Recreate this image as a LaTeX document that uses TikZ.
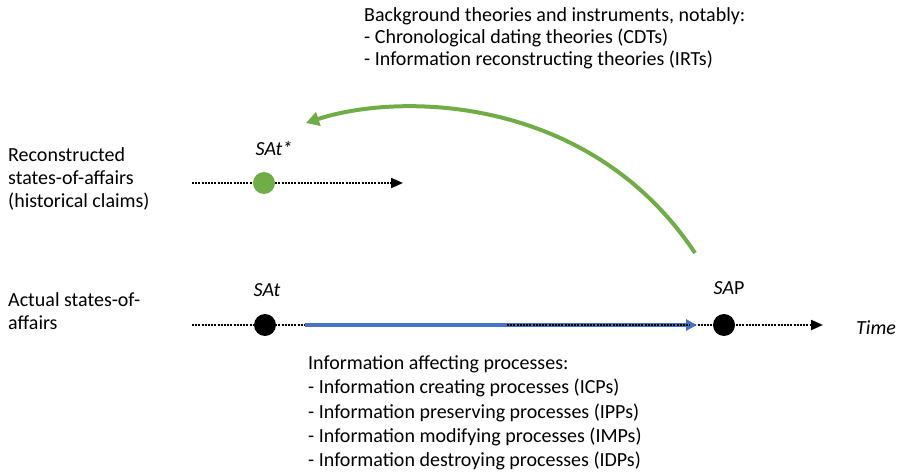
\documentclass[tikz,border=0pt]{standalone}
\usepackage{fontspec}
\setmainfont{Carlito}
\usetikzlibrary{arrows.meta}
\definecolor{pgreen}{HTML}{70AD47}
\definecolor{pblue}{HTML}{4472C4}
\begin{document}
\begin{tikzpicture}[x=1pt,y=-1pt,
  txt/.style={font=\fontsize{20}{23}\selectfont, align=left, inner sep=0pt, anchor=north west},
  lbl/.style={font=\fontsize{20}{23}\selectfont\itshape, inner sep=0pt},
  timeline/.style={line width=2pt, dash pattern=on 2pt off 1.2pt, -{Triangle[length=12pt,width=10pt]}},
  dotl/.style={line width=2pt, dash pattern=on 2pt off 1.2pt},
  dot/.style={circle, minimum size=22pt, inner sep=0pt, fill=black},
  gdot/.style={circle, minimum size=22pt, inner sep=0pt, fill=pgreen}]
\useasboundingbox (0,0) rectangle (898,473);
% top text
\node[txt, font=\fontsize{20}{22}\selectfont] (bg) at (364,7) {Background theories and instruments, notably:\\- Chronological dating theories (CDTs)\\- Information reconstructing theories (IRTs)};
% left labels
\node[txt] (rec) at (8,147.5) {Reconstructed\\states-of-affairs\\(historical claims)};
\node[txt] (act) at (8,292.5) {Actual states-of-\\affairs};
% upper line
\coordinate (u0) at (192,183);
\coordinate (u1) at (403,183);
\draw[timeline] (u0) -- (u1);
\node[gdot] (sastar) at (264,183) {};
\node[lbl] (sastarl) at (274,148) {SAt*};
% lower line
\coordinate (l0) at (192,325);
\coordinate (l1) at (823,325);
\coordinate (bs) at (305,325);
\coordinate (bm) at (507,325);
\draw[timeline] (l0) -- (l1);
\node[dot] (sat) at (265,325) {};
\node[dot] (sap) at (724,325) {};
\node[lbl] (satl) at (267,290) {SAt};
\node[lbl] (sapl) at (729,288) {SA\textup{P}};
\node[lbl, anchor=west] (time) at (856,328) {Time};
\draw[line width=3.5pt, pblue, -{Triangle[length=11pt,width=11pt]}] (bs) -- (697,325);
\draw[dotl] (bm) -- (690,325);
% green curve
\coordinate (gs) at (695,253);
\coordinate (ge) at (306,123);
\draw[line width=4pt, pgreen, -{Triangle[length=13pt,width=14pt]}] (gs) .. controls (590,95) and (400,92) .. (ge);
% bottom text
\node[txt, font=\fontsize{20}{24.3}\selectfont] (iap) at (308,355.5) {Information affecting processes:\\- Information creating processes (ICPs)\\- Information preserving processes (IPPs)\\- Information modifying processes (IMPs)\\- Information destroying processes (IDPs)};
\end{tikzpicture}
\end{document}
